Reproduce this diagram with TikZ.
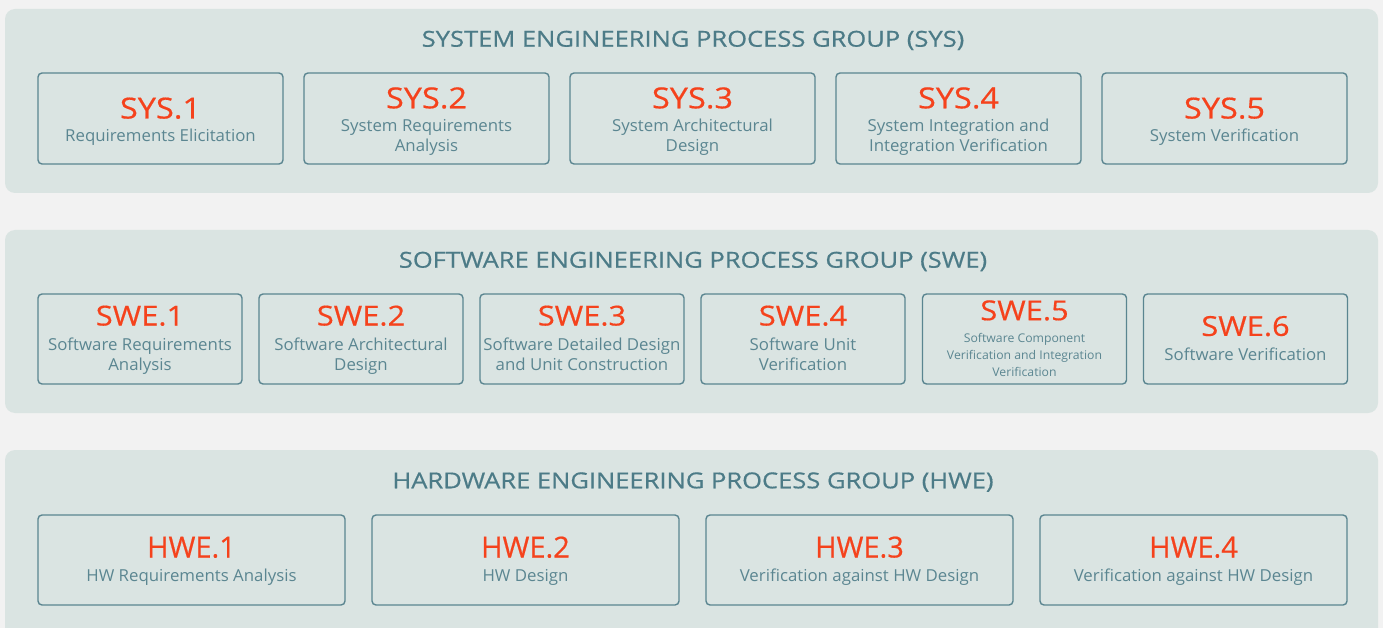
\documentclass[tikz,border=0pt]{standalone}
\usepackage{fontspec}
\setmainfont{Open Sans}
\newfontfamily\grouphead{Open Sans}[FakeStretch=1.16, FakeBold=0.6]
\newfontfamily\codehead{Open Sans}[FakeStretch=1.12, FakeBold=0.5]
\newfontfamily\hwcodehead{Open Sans}[FakeStretch=1.0, FakeBold=0.5]
\newfontfamily\descfont{Open Sans}[FakeStretch=1.02]
\definecolor{pagebg}{HTML}{F2F2F2}
\definecolor{panelbg}{HTML}{DAE4E2}
\definecolor{framecol}{HTML}{5A8590}
\definecolor{headcol}{HTML}{4C7B87}
\definecolor{subcol}{HTML}{5B8691}
\definecolor{codecol}{HTML}{F5421C}
\tikzset{
  panel/.style={fill=panelbg, rounded corners=10pt, draw=none},
  procbox/.style={draw=framecol, line width=1.4pt, rounded corners=4pt, fill=none, inner sep=0pt},
  sysbox/.style={procbox, minimum width=245pt, minimum height=91pt},
  swebox/.style={procbox, minimum width=204pt, minimum height=90pt},
  hwebox/.style={procbox, minimum width=307pt, minimum height=90pt},
  grouptitle/.style={text=headcol, font=\grouphead\fontsize{22}{26}\selectfont, anchor=base, inner sep=0pt},
  codetext/.style={text=codecol, font=\codehead\fontsize{29}{32}\selectfont, anchor=base, inner sep=0pt},
  swecode/.style={codetext, font=\codehead\fontsize{27.5}{30}\selectfont},
  hwecode/.style={codetext, font=\hwcodehead\fontsize{29}{32}\selectfont},
  desctext/.style={text=subcol, font=\descfont\fontsize{16.5}{20}\selectfont, anchor=base, inner sep=0pt},
  smalldesc/.style={text=subcol, font=\descfont\fontsize{12}{15}\selectfont, anchor=base, inner sep=0pt},
}
\begin{document}
\begin{tikzpicture}[x=1pt,y=-1pt]
\useasboundingbox (0,0) rectangle (1383,628);
\fill[pagebg] (0,0) rectangle (1383,628);

% group panels
\fill[panel] (5,9) rectangle (1378,193);
\fill[panel] (5,230) rectangle (1378,413);
\fill[panel] (5,450) rectangle (1378,640);

% ---------------- SYS ----------------
\node[grouptitle] (systitle) at (693,46.7) {SYSTEM ENGINEERING PROCESS GROUP (SYS)};

\node[sysbox] (sys1) at (160.5,118.5) {};
\node[codetext] (sys1c) at (160.5,118.5) {SYS.1};
\node[desctext] (sys1d) at (160.5,141.5) {Requirements Elicitation};

\node[sysbox] (sys2) at (426.5,118.5) {};
\node[codetext] (sys2c) at (426.5,108.3) {SYS.2};
\node[desctext] (sys2d) at (426.5,132) {System Requirements};
\node[desctext] (sys2e) at (426.5,152) {Analysis};

\node[sysbox] (sys3) at (692.5,118.5) {};
\node[codetext] (sys3c) at (692.5,108.3) {SYS.3};
\node[desctext] (sys3d) at (692.5,132) {System Architectural};
\node[desctext] (sys3e) at (692.5,152) {Design};

\node[sysbox] (sys4) at (958.5,118.5) {};
\node[codetext] (sys4c) at (958.5,108.3) {SYS.4};
\node[desctext] (sys4d) at (958.5,132) {System Integration and};
\node[desctext] (sys4e) at (958.5,152) {Integration Verification};

\node[sysbox] (sys5) at (1224.5,118.5) {};
\node[codetext] (sys5c) at (1224.5,118.5) {SYS.5};
\node[desctext] (sys5d) at (1224.5,141.5) {System Verification};

% ---------------- SWE ----------------
\node[grouptitle] (swetitle) at (693,267.7) {SOFTWARE ENGINEERING PROCESS GROUP (SWE)};

\node[swebox] (swe1) at (140,339) {};
\node[swecode] (swe1c) at (140,325.5) {SWE.1};
\node[desctext] (swe1d) at (140,350.5) {Software Requirements};
\node[desctext] (swe1e) at (140,370.8) {Analysis};

\node[swebox] (swe2) at (361,339) {};
\node[swecode] (swe2c) at (361,325.5) {SWE.2};
\node[desctext] (swe2d) at (361,350.5) {Software Architectural};
\node[desctext] (swe2e) at (361,370.8) {Design};

\node[swebox] (swe3) at (582,339) {};
\node[swecode] (swe3c) at (582,325.5) {SWE.3};
\node[desctext] (swe3d) at (582,350.5) {Software Detailed Design};
\node[desctext] (swe3e) at (582,370.8) {and Unit Construction};

\node[swebox] (swe4) at (803,339) {};
\node[swecode] (swe4c) at (803,325.5) {SWE.4};
\node[desctext] (swe4d) at (803,350.5) {Software Unit};
\node[desctext] (swe4e) at (803,370.8) {Verification};

\node[swebox] (swe5) at (1024.5,339) {};
\node[swecode] (swe5c) at (1024.5,320.2) {SWE.5};
\node[smalldesc] (swe5d) at (1024.5,342.2) {Software Component};
\node[smalldesc] (swe5e) at (1024.5,359.2) {Verification and Integration};
\node[smalldesc] (swe5f) at (1024.5,376.4) {Verification};

\node[swebox] (swe6) at (1245.5,339) {};
\node[swecode] (swe6c) at (1245.5,335.9) {SWE.6};
\node[desctext] (swe6d) at (1245.5,360.8) {Software Verification};

% ---------------- HWE ----------------
\node[grouptitle] (hwetitle) at (693,488.3) {HARDWARE ENGINEERING PROCESS GROUP (HWE)};

\node[hwebox] (hwe1) at (191.5,560) {};
\node[hwecode] (hwe1c) at (191.5,557.5) {HWE.1};
\node[desctext] (hwe1d) at (191.5,581.3) {HW Requirements Analysis};

\node[hwebox] (hwe2) at (525.5,560) {};
\node[hwecode] (hwe2c) at (525.5,557.5) {HWE.2};
\node[desctext] (hwe2d) at (525.5,581.3) {HW Design};

\node[hwebox] (hwe3) at (859.5,560) {};
\node[hwecode] (hwe3c) at (859.5,557.5) {HWE.3};
\node[desctext] (hwe3d) at (859.5,581.3) {Verification against HW Design};

\node[hwebox] (hwe4) at (1193.5,560) {};
\node[hwecode] (hwe4c) at (1193.5,557.5) {HWE.4};
\node[desctext] (hwe4d) at (1193.5,581.3) {Verification against HW Design};
\end{tikzpicture}
\end{document}
